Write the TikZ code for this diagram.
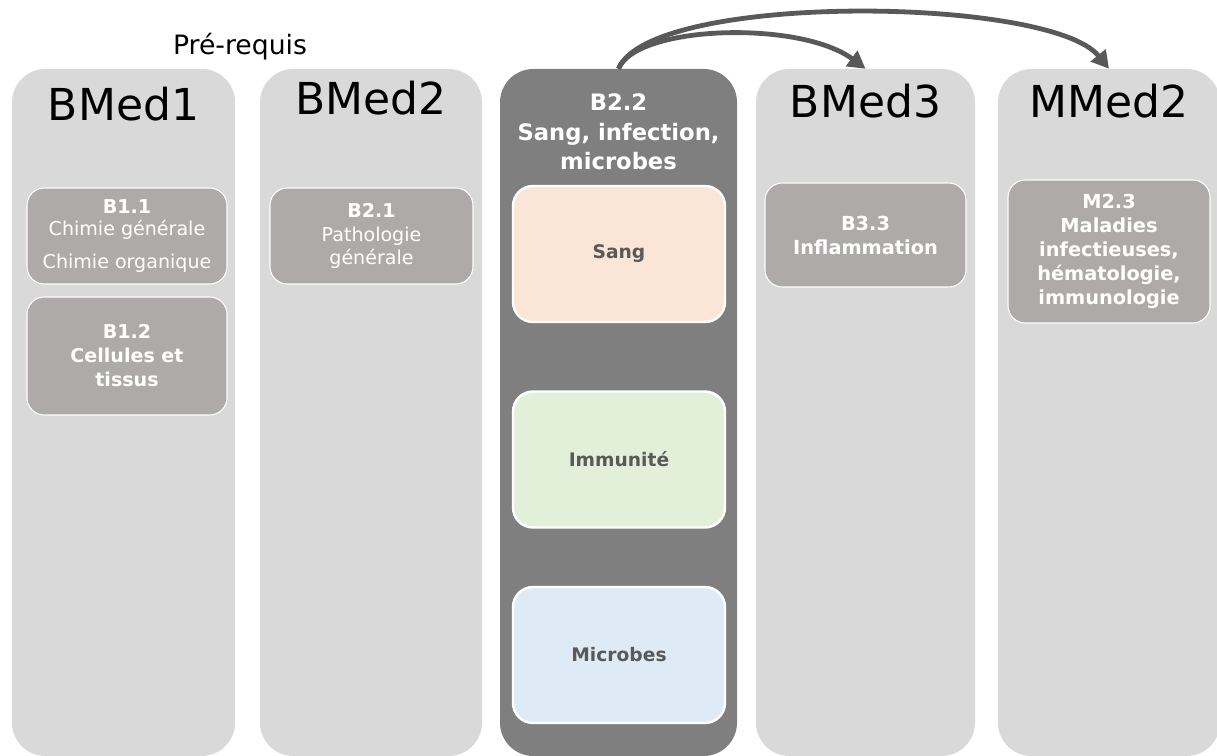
\documentclass[tikz,border=0pt]{standalone}
\usepackage{fontspec}
\setmainfont{DejaVu Sans}
\usetikzlibrary{arrows.meta}
\definecolor{colgray}{HTML}{D9D9D9}
\definecolor{darkcol}{HTML}{7F7F7F}
\definecolor{uegray}{HTML}{AEAAAA}
\definecolor{sangfill}{HTML}{FBE5D6}
\definecolor{immufill}{HTML}{E2F0D9}
\definecolor{microfill}{HTML}{DEEBF7}
\definecolor{txtgray}{HTML}{595959}
\begin{document}
\begin{tikzpicture}[x=0.75pt,y=-0.75pt,
  col/.style={rounded corners=25pt,fill=colgray,inner sep=0pt,minimum height=515.25pt},
  coltitle/.style={font=\fontsize{33}{38}\selectfont},
  ue/.style={rounded corners=13pt,fill=uegray,draw=white,line width=0.8pt,text=white,align=center,inner sep=0pt,font=\fontsize{14.3}{17.5}\selectfont},
  part/.style={rounded corners=15pt,draw=white,line width=1.8pt,text=txtgray,inner sep=0pt,minimum width=159pt,minimum height=102pt,font=\fontsize{14}{17}\selectfont\bfseries},
  arr/.style={line width=3.6pt,draw=txtgray,-{Triangle[length=13pt,width=14pt]}}]
\useasboundingbox (0,0) rectangle (1217,756);
\node (prereq) at (240,47) {\fontsize{20}{24}\selectfont Pré-requis};
% colonnes
\node[col,minimum width=167.25pt] (bmed1) at (123.5,412.5) {};
\node[col,minimum width=166.5pt] (bmed2) at (371,412.5) {};
\node[col,minimum width=177.75pt,fill=darkcol] (b22) at (618.5,412.5) {};
\node[col,minimum width=164.25pt] (bmed3) at (865.5,412.5) {};
\node[col,minimum width=166.5pt] (mmed2) at (1109,412.5) {};
\node[coltitle] (t1) at (123.5,104) {BMed1};
\node[coltitle] (t2) at (371,98) {BMed2};
\node[coltitle] (t3) at (865.5,101) {BMed3};
\node[coltitle] (t4) at (1109,101) {MMed2};
\node[text=white,align=center,font=\fontsize{17}{22}\selectfont\bfseries] (t22) at (618.5,132) {B2.2\\Sang, infection,\\microbes};
% UE
\node[ue,minimum width=150pt,minimum height=72pt] (b11) at (127,236) {\textbf{B1.1}\\[-1pt]Chimie générale\\[7pt]Chimie organique};
\node[ue,minimum width=150pt,minimum height=88.5pt,font=\fontsize{14.3}{18}\selectfont\bfseries] (b12) at (127,356) {B1.2\\Cellules et\\tissus};
\node[ue,minimum width=152.25pt,minimum height=72pt] (b21) at (371.5,236) {\textbf{B2.1}\\Pathologie\\générale};
\node[ue,minimum width=150.75pt,minimum height=78pt,font=\fontsize{14.5}{18}\selectfont\bfseries] (b33) at (865.5,235) {B3.3\\Inflammation};
\node[ue,minimum width=151.5pt,minimum height=107.25pt,font=\fontsize{14.5}{18}\selectfont\bfseries] (m23) at (1109,251.5) {M2.3\\Maladies\\infectieuses,\\hématologie,\\immunologie};
% parties de B2.2
\node[part,fill=sangfill] (sang) at (619,254) {Sang};
\node[part,fill=immufill] (immu) at (619,459.5) {Immunité};
\node[part,fill=microfill] (micro) at (619,655) {Microbes};
% fleches
\draw[arr] (b22.north) .. controls (636,25) and (800,20) .. (bmed3.north);
\draw[arr] (b22.north) .. controls (650,-8) and (1050,-4) .. (mmed2.north);
\end{tikzpicture}
\end{document}
